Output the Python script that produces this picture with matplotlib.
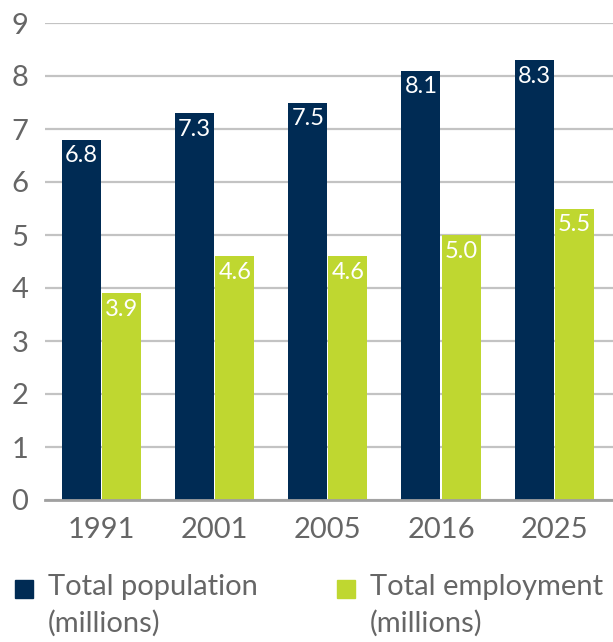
import matplotlib.pyplot as plt
from matplotlib.patches import Rectangle

plt.rcParams['font.family'] = ['Lato', 'DejaVu Sans']

years = ['1991', '2001', '2005', '2016', '2025']
population = [6.8, 7.3, 7.5, 8.1, 8.3]
employment = [3.9, 4.6, 4.6, 5.0, 5.5]
series_names = ['Total population\n(millions)', 'Total employment\n(millions)']

navy = '#002b54'
lime = '#bfd730'
grey_text = '#666666'

fig = plt.figure(figsize=(6.13, 6.42), dpi=100)
ax = fig.add_axes([45 / 613, 1 - 500 / 642, 568 / 613, 477 / 642])

w = 0.345
x = range(len(years))
b1 = ax.bar([i - w / 2 - 0.005 for i in x], population, width=w, color=navy, zorder=3)
b2 = ax.bar([i + w / 2 + 0.005 for i in x], employment, width=w, color=lime, zorder=3)

for bars, vals in ((b1, population), (b2, employment)):
    for r, v in zip(bars, vals):
        ax.annotate(f'{v:.1f}', (r.get_x() + r.get_width() / 2, v),
                    xytext=(0, -4), textcoords='offset points',
                    ha='center', va='top', color='white', fontsize=17, zorder=4)

ax.set_xlim(-0.5, 4.52)
ax.set_ylim(0, 9)
ax.set_yticks(range(10))
ax.set_xticks(list(x))
ax.set_xticklabels(years)
ax.grid(axis='y', color='#c3c3c3', linewidth=1.6, zorder=0)
for s in ('top', 'right', 'left'):
    ax.spines[s].set_visible(False)
ax.spines['bottom'].set_color('#a0a0a0')
ax.spines['bottom'].set_linewidth(2)
ax.spines['bottom'].set_zorder(5)
ax.tick_params(axis='both', length=0, labelsize=21, colors=grey_text)
ax.tick_params(axis='y', pad=12)
ax.tick_params(axis='x', pad=12)

# legend drawn by hand so each square sits beside the first line
for (mx, tx), name, col in zip(((15, 48), (337, 370)), series_names, (navy, lime)):
    fig.patches.append(Rectangle((mx / 613, 1 - 598 / 642), 18 / 613, 18 / 642,
                                 transform=fig.transFigure, color=col))
    fig.text(tx / 613, 1 - 574 / 642, name, ha='left', va='top',
             fontsize=21, color=grey_text, linespacing=1.45)

fig.savefig('out.png', dpi=100)
